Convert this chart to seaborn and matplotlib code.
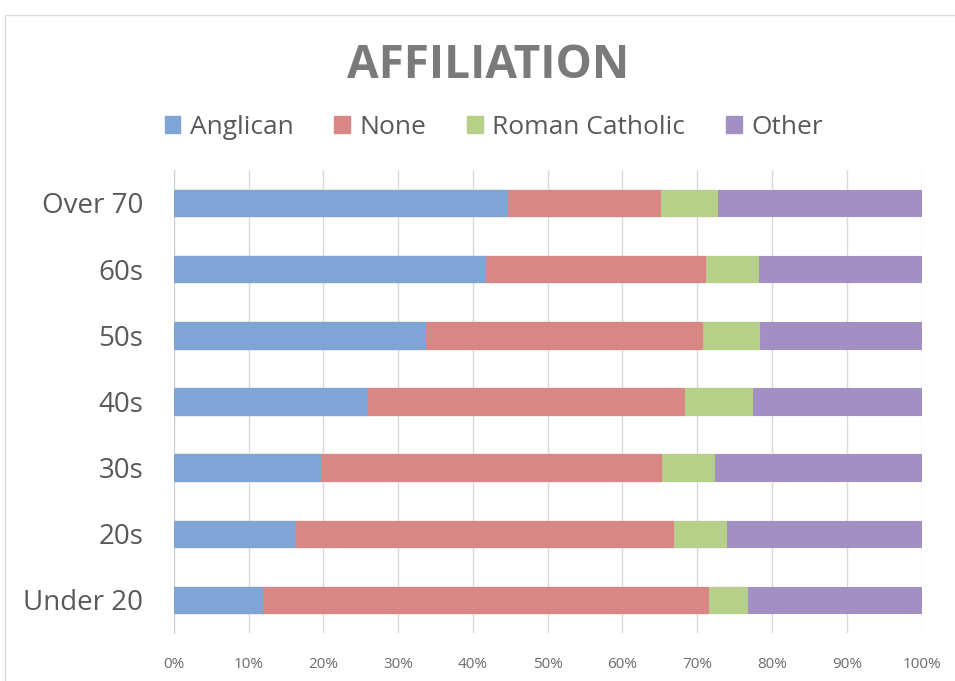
import numpy as np
import pandas as pd
import seaborn as sns
import matplotlib.pyplot as plt
from matplotlib.patches import Rectangle, Patch

# values, percent of each age group
groups = ['Over 70', '60s', '50s', '40s', '30s', '20s', 'Under 20']
anglican = [44.5, 41.6, 33.6, 25.9, 19.5, 16.2, 11.8]
none = [20.5, 29.5, 37.0, 42.3, 45.7, 50.5, 59.7]
catholic = [7.7, 7.0, 7.7, 9.1, 7.0, 7.2, 5.2]
other = [27.3, 21.9, 21.7, 22.7, 27.8, 26.1, 23.3]

series = ['Anglican', 'None', 'Roman Catholic', 'Other']
colors = ['#7fa4d6', '#d98785', '#b6d08a', '#a28fc4']

df = pd.DataFrame({'group': groups, 'Anglican': anglican, 'None': none,
                   'Roman Catholic': catholic, 'Other': other})
cum = df[series].cumsum(axis=1)

sns.set_style('white')
plt.rcParams['font.family'] = ['Open Sans', 'DejaVu Sans']

fig = plt.figure(figsize=(9.55, 6.81), dpi=100)
ax = fig.add_axes([0.182, 0.0705, 0.783, 0.68])

# stacked bars: draw cumulative totals from the largest down
for s, c in reversed(list(zip(series, colors))):
    sns.barplot(x=cum[s], y=df['group'], order=groups, color=c, width=0.4,
                saturation=1, edgecolor=c, linewidth=0.8, ax=ax, zorder=3)

ax.set_xlim(0, 100)
ax.set_xticks(np.arange(0, 101, 10))
ax.set_xticklabels([f'{t}%' for t in range(0, 101, 10)], fontsize=11, color='#6b6b6b')
ax.tick_params(axis='y', labelsize=20, colors='#595959', length=0, pad=22)
ax.tick_params(axis='x', length=0, pad=17)
ax.set_xlabel('')
ax.set_ylabel('')
ax.xaxis.grid(True, color='#d9d9d9', linewidth=1, zorder=0)
ax.set_axisbelow(True)
for sp in ['top', 'right', 'bottom']:
    ax.spines[sp].set_visible(False)
ax.spines['left'].set_color('#d0d0d0')

fig.text(0.511, 0.904, 'AFFILIATION', ha='center', va='center', fontsize=33,
         fontweight='bold', color='#7a7a7a')

handles = [Patch(facecolor=c, edgecolor=c) for c in colors]
fig.legend(handles, series, loc='center', bbox_to_anchor=(0.517, 0.813), ncol=4,
           frameon=False, fontsize=19, labelcolor='#595959', handlelength=0.6,
           handleheight=0.6, handletextpad=0.35, columnspacing=1.55)

# light chart border
fig.patches.append(Rectangle((5 / 955, -0.01), 1.0, 1 - 15 / 681 + 0.01,
                             transform=fig.transFigure, fill=False,
                             edgecolor='#dcdcdc', linewidth=1))

fig.savefig('out.png', dpi=100)
